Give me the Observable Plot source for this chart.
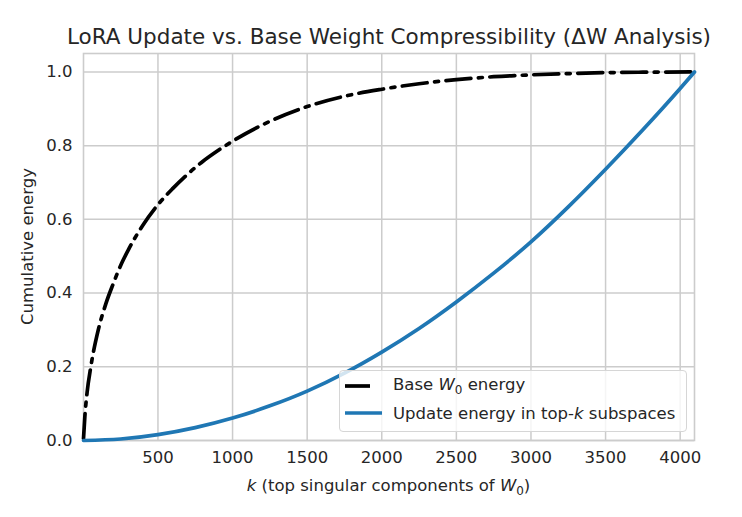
<!DOCTYPE html>
<html><head><meta charset="utf-8">
<script src="https://cdn.jsdelivr.net/npm/d3@7"></script>
<script src="https://cdn.jsdelivr.net/npm/@observablehq/plot@0.6"></script>
<style>
body{margin:0;background:#fff;font-family:"DejaVu Sans",sans-serif;}
#wrap{position:relative;width:742px;height:517px;}
#legend{position:absolute;left:339px;top:370px;width:348px;height:62px;border:1.5px solid #d6d6d6;border-radius:4px;background:rgba(255,255,255,0.8);box-sizing:border-box;font-size:16.5px;color:#262626;}
#legend .row{position:absolute;left:0;height:22px;display:flex;align-items:center;}
#legend svg{margin-left:5px;}
#legend span{position:absolute;left:53px;white-space:nowrap;}
</style></head><body><div id="wrap"></div>
<script>
const titleText = "LoRA Update vs. Base Weight Compressibility (ΔW Analysis)";
const yLabel = "Cumulative energy";
const xTicks = [500, 1000, 1500, 2000, 2500, 3000, 3500, 4000];
const yTicks = [0, 0.2, 0.4, 0.6, 0.8, 1.0];

const baseK = [1, 10, 25, 50, 100, 150, 200, 250, 300, 400, 500, 600, 700, 800, 900, 1000, 1250, 1500, 1750, 2000, 2250, 2500, 2750, 3000, 3250, 3500, 3750, 4096];
const baseEnergy = [0.005, 0.065, 0.13, 0.20, 0.30, 0.37, 0.425, 0.475, 0.516, 0.585, 0.64, 0.684, 0.723, 0.757, 0.786, 0.812, 0.866, 0.906, 0.934, 0.953, 0.968, 0.979, 0.987, 0.992, 0.9955, 0.998, 0.9992, 1.0];

const updK = [1, 250, 500, 750, 1000, 1250, 1500, 1750, 2000, 2250, 2500, 2750, 3000, 3250, 3500, 3750, 4000, 4096];
const updEnergy = [0.0, 0.004, 0.016, 0.035, 0.061, 0.094, 0.134, 0.183, 0.240, 0.304, 0.376, 0.454, 0.539, 0.634, 0.736, 0.843, 0.955, 1.0];

const base = baseK.map((k, i) => ({k, e: baseEnergy[i]}));
const upd = updK.map((k, i) => ({k, e: updEnergy[i]}));

const grid = "#cccccc";
const txt = "#262626";

const chart = Plot.plot({
  width: 742, height: 517,
  marginLeft: 83, marginRight: 48, marginTop: 53, marginBottom: 77,
  style: {fontFamily: "DejaVu Sans, sans-serif", fontSize: "16.5px", color: txt, background: "#fff"},
  x: {domain: [1, 4096], label: null},
  y: {domain: [0, 1.05], label: null},
  marks: [
    Plot.gridX(xTicks, {stroke: grid, strokeOpacity: 1, strokeWidth: 1.5}),
    Plot.gridY(yTicks, {stroke: grid, strokeOpacity: 1, strokeWidth: 1.5}),
    Plot.frame({stroke: grid, strokeWidth: 1.6}),
    Plot.axisX(xTicks, {tickSize: 0, tickPadding: 11, fontSize: 16.5, fill: txt, tickFormat: d3.format("d")}),
    Plot.axisY(yTicks, {tickSize: 0, tickPadding: 11, fontSize: 16.5, fill: txt, tickFormat: d3.format(".1f")}),
    Plot.line(base, {x: "k", y: "e", stroke: "black", strokeWidth: 3.7, strokeDasharray: "25,7.5,4,7.5", curve: "monotone-x"}),
    Plot.line(upd, {x: "k", y: "e", stroke: "#1f77b4", strokeWidth: 3.7, curve: "monotone-x"}),
    Plot.text([titleText], {frameAnchor: "top", dy: -25, fontSize: 21.5, fill: txt, text: d => d})
  ]
});

const svg = d3.select(chart);
const xl = svg.append("text").attr("x", 388.5).attr("y", 491).attr("text-anchor", "middle")
  .attr("font-size", 16.5).attr("fill", txt);
xl.append("tspan").attr("font-style", "italic").text("k");
xl.append("tspan").text(" (top singular components of ");
xl.append("tspan").attr("font-style", "italic").text("W");
xl.append("tspan").attr("font-size", 12).attr("dy", 4).text("0");
xl.append("tspan").attr("dy", -4).text(")");
svg.append("text").attr("transform", "translate(33,246.5) rotate(-90)").attr("text-anchor", "middle")
  .attr("font-size", 16.5).attr("fill", txt).text(yLabel);

document.getElementById("wrap").appendChild(chart);

const lg = document.createElement("div");
lg.id = "legend";
lg.innerHTML = `
<div class="row" style="top:4px"><svg width="40" height="10"><line x1="0" x2="28" y1="5" y2="5" stroke="black" stroke-width="3.7" stroke-dasharray="25,7.5,4,7.5"/></svg><span>Base <i>W</i><sub style="font-size:12px">0</sub> energy</span></div>
<div class="row" style="top:31px"><svg width="40" height="10"><line x1="0" x2="37" y1="5" y2="5" stroke="#1f77b4" stroke-width="3.7"/></svg><span>Update energy in top-<i>k</i> subspaces</span></div>`;
document.getElementById("wrap").appendChild(lg);
</script>
</body></html>
